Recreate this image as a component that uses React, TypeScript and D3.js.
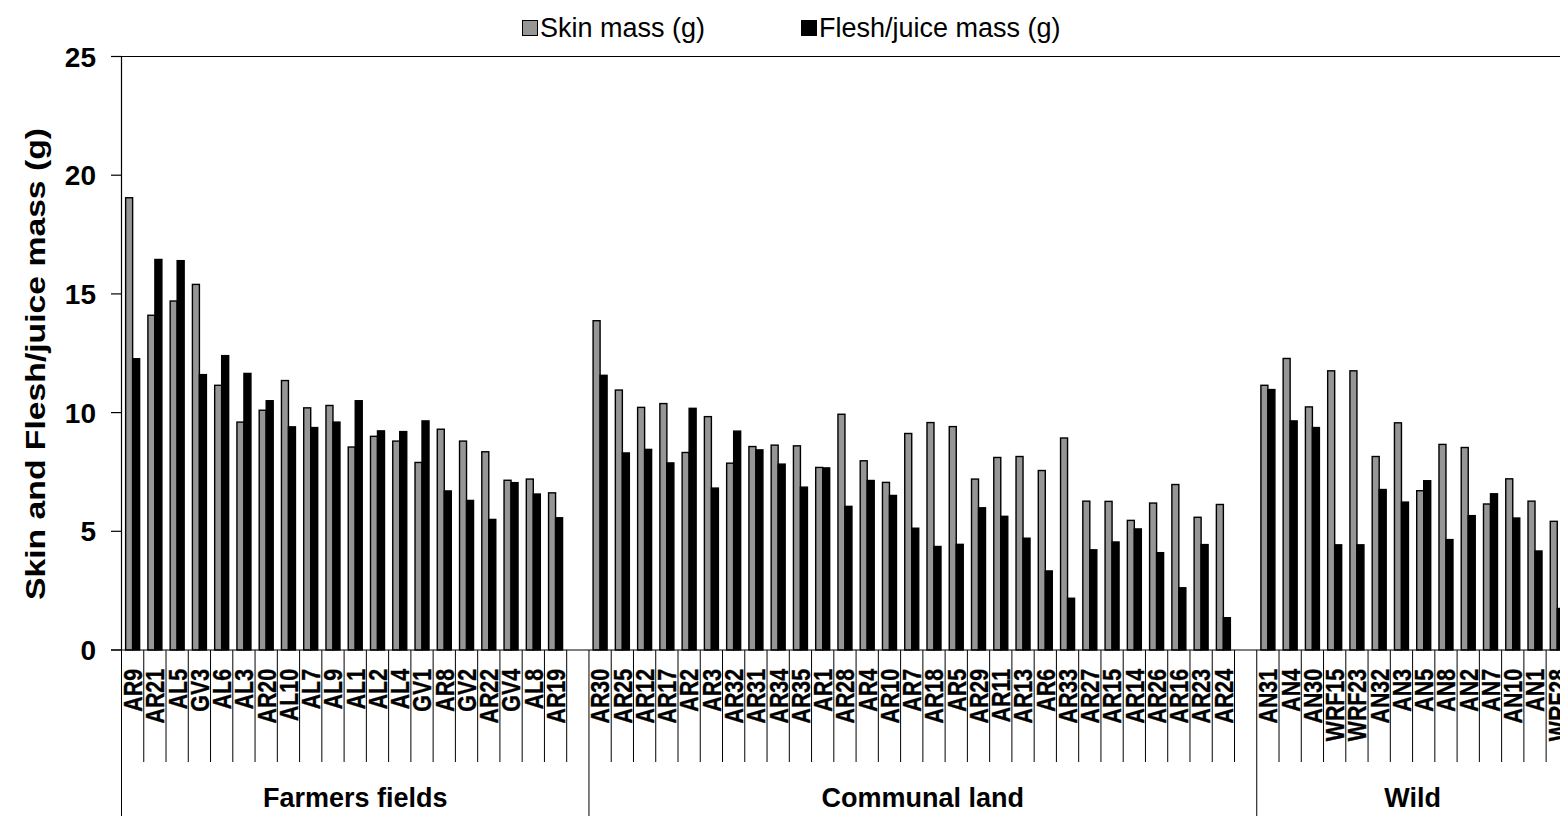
import * as d3 from "d3";

// values
const groupNames = ["Farmers fields", "Communal land", "Wild"];

const farmersCats = ["AR9", "AR21", "AL5", "GV3", "AL6", "AL3", "AR20", "AL10", "AL7", "AL9", "AL1", "AL2", "AL4", "GV1", "AR8", "GV2", "AR22", "GV4", "AL8", "AR19"];
const farmersSkin = [19.05, 14.1, 14.7, 15.4, 11.15, 9.6, 10.1, 11.35, 10.2, 10.3, 8.55, 9.0, 8.8, 7.9, 9.3, 8.8, 8.35, 7.15, 7.2, 6.62];
const farmersFlesh = [12.27, 16.45, 16.4, 11.6, 12.4, 11.65, 10.5, 9.4, 9.37, 9.6, 10.5, 9.23, 9.2, 9.65, 6.7, 6.3, 5.5, 7.05, 6.57, 5.57];

const communalCats = ["AR30", "AR25", "AR12", "AR17", "AR2", "AR3", "AR32", "AR31", "AR34", "AR35", "AR1", "AR28", "AR4", "AR10", "AR7", "AR18", "AR5", "AR29", "AR11", "AR13", "AR6", "AR33", "AR27", "AR15", "AR14", "AR26", "AR16", "AR23", "AR24"];
const communalSkin = [13.87, 10.95, 10.22, 10.38, 8.32, 9.83, 7.87, 8.57, 8.63, 8.6, 7.69, 9.93, 7.97, 7.06, 9.12, 9.58, 9.41, 7.2, 8.11, 8.15, 7.56, 8.93, 6.27, 6.26, 5.46, 6.19, 6.97, 5.59, 6.13];
const communalFlesh = [11.57, 8.3, 8.45, 7.88, 10.18, 6.82, 9.22, 8.43, 7.83, 6.86, 7.67, 6.05, 7.14, 6.51, 5.13, 4.36, 4.45, 5.99, 5.63, 4.71, 3.33, 2.18, 4.22, 4.55, 5.1, 4.1, 2.62, 4.44, 1.36];

const wildCats = ["AN31", "AN4", "AN30", "WRF15", "WRF23", "AN32", "AN3", "AN5", "AN8", "AN2", "AN7", "AN10", "AN1", "WRF28"];
const wildSkin = [11.15, 12.28, 10.24, 11.76, 11.76, 8.15, 9.57, 6.71, 8.66, 8.53, 6.15, 7.21, 6.27, 5.42];
const wildFlesh = [10.97, 9.65, 9.37, 4.43, 4.43, 6.76, 6.23, 7.13, 4.65, 5.66, 6.58, 5.56, 4.17, 1.75];

const seriesKeys = ["skin", "flesh"];
const seriesNames = ["Skin mass (g)", "Flesh/juice mass (g)"];
const seriesColors = ["#969696", "#000000"];
const yTicks = [0, 5, 10, 15, 20, 25];

type Row = { key: string; group: number; label: string; skin: number | null; flesh: number | null };

const groups = [
  { cats: farmersCats, skin: farmersSkin, flesh: farmersFlesh, blank: true },
  { cats: communalCats, skin: communalSkin, flesh: communalFlesh, blank: true },
  { cats: wildCats, skin: wildSkin, flesh: wildFlesh, blank: false },
];

const rows: Row[] = [];
groups.forEach((g, gi) => {
  g.cats.forEach((c, i) => rows.push({ key: `${gi}:${c}`, group: gi, label: c, skin: g.skin[i], flesh: g.flesh[i] }));
  if (g.blank) rows.push({ key: `${gi}:_`, group: gi, label: "", skin: null, flesh: null });
});

const W = 1560;
const H = 816;
const left = 121.5;
const step = 22.26;
const top = 56.5;
const zeroY = 650;
const font = "'Liberation Sans', Arial, sans-serif";

export default function App() {
  const x = d3.scaleBand<string>().domain(rows.map((r) => r.key)).range([left, left + step * rows.length]).padding(0);
  const inner = d3.scaleBand<string>().domain(seriesKeys).range([0, x.bandwidth()]).paddingInner(0).paddingOuter(0.59);
  const y = d3.scaleLinear().domain([0, 25]).range([zeroY, top]);
  const right = left + step * rows.length;

  // band edges; a group edge runs down to the bottom
  const bounds: { xp: number; major: boolean }[] = [];
  rows.forEach((r, i) => {
    const major = i === 0 || rows[i - 1].group !== r.group;
    bounds.push({ xp: x(r.key)!, major });
  });
  bounds.push({ xp: right, major: true });

  const groupSpans = groupNames.map((name, gi) => {
    const gr = rows.filter((r) => r.group === gi);
    const x0 = x(gr[0].key)!;
    const x1 = x(gr[gr.length - 1].key)! + x.bandwidth();
    return { name, cx: (x0 + x1) / 2 };
  });

  return (
    <svg width={W} height={H} style={{ position: "absolute", left: 0, top: 0, background: "#fff" }} fontFamily={font}>
      {/* legend */}
      <g>
        <rect x={522.5} y={20.5} width={15} height={15} fill={seriesColors[0]} stroke="#000" strokeWidth={1} />
        <text x={540} y={37} fontSize={27}>{seriesNames[0]}</text>
        <rect x={801.5} y={20.5} width={15} height={15} fill={seriesColors[1]} stroke="#000" strokeWidth={1} />
        <text x={819} y={37} fontSize={27}>{seriesNames[1]}</text>
      </g>

      {/* bars */}
      {rows.map((r) =>
        seriesKeys.map((k, si) => {
          const v = r[k as "skin" | "flesh"];
          if (v == null) return null;
          const bx = x(r.key)! + inner(k)!;
          return (
            <rect
              key={r.key + k}
              x={bx}
              y={y(v)}
              width={inner.bandwidth()}
              height={zeroY - y(v)}
              fill={seriesColors[si]}
              stroke="#000"
              strokeWidth={1.4}
            />
          );
        })
      )}

      {/* y axis */}
      <line x1={left} x2={left} y1={top} y2={zeroY} stroke="#000" strokeWidth={1.2} />
      <line x1={111} x2={right} y1={top} y2={top} stroke="#000" strokeWidth={1.2} />
      {yTicks.map((t) => (
        <g key={t}>
          <line x1={111} x2={left} y1={y(t)} y2={y(t)} stroke="#000" strokeWidth={1.2} />
          <text x={96} y={y(t)} dy="0.36em" textAnchor="end" fontSize={28} fontWeight="bold">{t}</text>
        </g>
      ))}
      <text
        transform={`translate(35,364) rotate(-90)`}
        textAnchor="middle"
        dy="0.36em"
        fontSize={28}
        fontWeight="bold"
        textLength={472}
        lengthAdjust="spacingAndGlyphs"
      >
        Skin and Flesh/juice mass (g)
      </text>

      {/* x axis */}
      <line x1={111} x2={right} y1={zeroY} y2={zeroY} stroke="#000" strokeWidth={1.2} />
      {bounds.map((b, i) => (
        <line key={i} x1={b.xp} x2={b.xp} y1={zeroY} y2={b.major ? H : 762} stroke="#000" strokeWidth={1} />
      ))}
      {rows.map((r) =>
        r.label ? (
          <text
            key={r.key}
            transform={`translate(${x(r.key)! + x.bandwidth() / 2},669) rotate(-90) scale(0.82,1)`}
            textAnchor="end"
            dy="0.36em"
            fontSize={26}
            fontWeight="bold"
            stroke="#000"
            strokeWidth={0.4}
          >
            {r.label}
          </text>
        ) : null
      )}
      {groupSpans.map((g) => (
        <text key={g.name} x={g.cx} y={807} textAnchor="middle" fontSize={27} fontWeight="bold">
          {g.name}
        </text>
      ))}
    </svg>
  );
}
